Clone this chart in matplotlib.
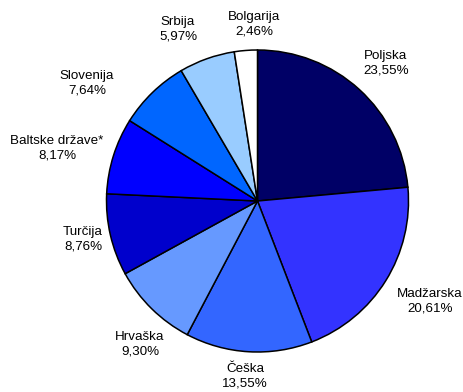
import matplotlib
matplotlib.use("Agg")
from matplotlib import pyplot as plt

countries = ["Poljska", "Madžarska", "Češka", "Hrvaška", "Turčija",
             "Baltske države*", "Slovenija", "Srbija", "Bolgarija"]
shares = [23.55, 20.61, 13.55, 9.30, 8.76, 8.17, 7.64, 5.97, 2.46]
colors = ["#000066", "#3333FF", "#3366FF", "#6699FF", "#0000CC",
          "#0000FF", "#0066FF", "#99CCFF", "#FFFFFF"]

# label centres in pixels (x from left, y from top)
label_xy = [(386, 63), (430, 301), (245, 376), (140, 344), (83, 239),
            (57, 148), (87, 83), (178, 29), (254, 24)]

W, H = 464, 392
fig = plt.figure(figsize=(W / 100, H / 100), dpi=100)
ax = fig.add_axes([0, 0, 1, 1])
ax.set_xlim(0, W)
ax.set_ylim(0, H)
ax.axis("off")

cx, cy, r = 257.5, H - 201, 151
ax.pie(shares, colors=colors, startangle=90, counterclock=False,
       radius=r, center=(cx, cy), frame=True,
       wedgeprops=dict(edgecolor="black", linewidth=1.1))
ax.set_xlim(0, W)
ax.set_ylim(0, H)
ax.set_aspect("equal")
ax.axis("off")

for name, val, (x, y) in zip(countries, shares, label_xy):
    txt = "%s\n%s%%" % (name, ("%.2f" % val).replace(".", ","))
    ax.text(x, H - y, txt, ha="center", va="center", fontsize=9.6,
            family="Liberation Sans", linespacing=1.3, color="black")

fig.savefig("out.png", dpi=100)
